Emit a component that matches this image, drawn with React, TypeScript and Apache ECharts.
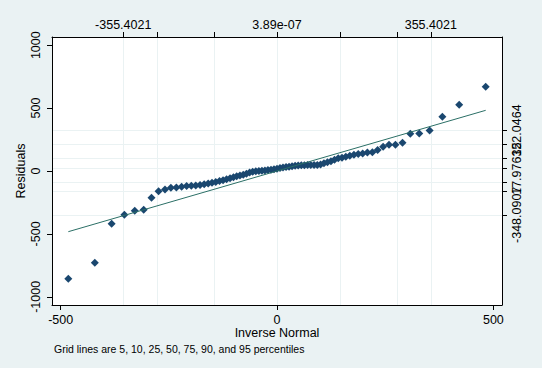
import React, { useEffect, useRef } from "react";
import * as echarts from "echarts";

// Theoretical normal quantiles (x) for the 77 sorted residuals
const normalQuantiles = [
  -482.3, -421.1, -382.2, -352.8, -328.8, -308.1, -290.0, -273.7, -258.8, -245.2,
  -232.5, -220.4, -208.9, -198.1, -187.8, -177.8, -168.3, -159.0, -150.2, -141.5,
  -132.9, -124.7, -116.5, -108.5, -100.7, -93.1, -85.6, -78.0, -70.7, -63.3,
  -56.2, -49.0, -41.9, -34.8, -27.9, -21.0, -13.8, -6.9, 0,
  6.9, 13.8, 21.0, 27.9, 34.8, 41.9, 49.0, 56.2, 63.3, 70.7,
  78.0, 85.6, 93.1, 100.7, 108.5, 116.5, 124.7, 132.9, 141.5, 150.2,
  159.0, 168.3, 177.8, 187.8, 198.1, 208.9, 220.4, 232.5, 245.2, 258.8,
  273.7, 290.0, 308.1, 328.8, 352.8, 382.2, 421.1, 482.3,
];

// Sorted residuals (y)
const residuals = [
  -856, -729, -419, -348, -315, -307, -212, -160, -147, -134,
  -132, -125, -119, -117, -115, -111, -106, -100, -94, -88,
  -80, -74, -66, -58, -50, -42, -36, -29, -22, -12,
  -6, -2, 0, 2, 4, 7, 10, 14, 18,
  24, 28, 32, 34, 37, 41, 44, 45, 46, 48,
  48, 48, 48, 52, 61, 69, 78, 90, 101, 106,
  114, 122, 129, 135, 139, 148, 150, 167, 192, 208,
  209, 225, 296, 298, 322, 432, 527, 670,
];

const bottomTicks = [-500, 0, 500];
const leftTicks = [-1000, -500, 0, 500, 1000];

// Percentile grid (5,10,25,50,75,90,95)
const topTickValues = [-355.4021, -276.89, -145.73, 3.89e-7, 145.73, 276.89, 355.4021];
const topLabelValues = [-355.4021, 3.89e-7, 355.4021];
const topLabelTexts = ["-355.4021", "3.89e-07", "355.4021"];

const rightTickValues = [-348.0907, -160, -88, 17.97615, 101, 209, 322.0464];
const rightOuterLabelValues = [-348.0907, 322.0464];
const rightMidLabelValues = [17.97615];
const rightLabelValues = [-348.0907, 17.97615, 322.0464];
const rightLabelTexts = ["-348.0907", "17.97615", "322.0464"];

const noteText = "Grid lines are 5, 10, 25, 50, 75, 90, and 95 percentiles";

const FONT = "'Liberation Sans', Arial, sans-serif";
const BG = "#eaf2f3";
const GRIDC = "#eaf2f3";
const MARKER = "#1a476f";
const LINEC = "#2b6f66";

function nearestLabel(v: number, vals: number[], texts: string[]) {
  let best = 0;
  let bd = Infinity;
  vals.forEach((x, i) => {
    const d = Math.abs(x - v);
    if (d < bd) {
      bd = d;
      best = i;
    }
  });
  return bd < 1 ? texts[best] : "";
}

export default function App() {
  const ref = useRef<HTMLDivElement>(null);
  useEffect(() => {
    document.body.style.margin = "0";
    if (!ref.current) return;
    const chart = echarts.init(ref.current, undefined, { renderer: "svg" });
    const xMin = Math.min(...normalQuantiles);
    const xMax = Math.max(...normalQuantiles);
    const axisLine = { show: true, onZero: false, lineStyle: { color: "#000", width: 1 } };
    const tickStyle = { color: "#000", width: 1 };
    const labelBase = {
      color: "#000",
      fontFamily: FONT,
      fontSize: 12.5,
      interval: 0,
      showMinLabel: true,
      showMaxLabel: true,
      hideOverlap: false,
    };
    const rightLabel = (vals: number[]) => ({
      ...labelBase,
      customValues: vals,
      rotate: 90,
      margin: 8,
      formatter: (v: number) => nearestLabel(v, rightLabelValues, rightLabelTexts),
    });
    chart.setOption({
      animation: false,
      backgroundColor: BG,
      grid: {
        left: 52,
        right: 40,
        top: 37,
        bottom: 63,
        show: true,
        backgroundColor: "#fff",
        borderWidth: 0,
        containLabel: false,
      },
      xAxis: [
        {
          type: "value",
          position: "bottom",
          min: -520,
          max: 520,
          axisLine,
          axisTick: { show: true, customValues: bottomTicks, length: 5, lineStyle: tickStyle },
          axisLabel: { ...labelBase, customValues: bottomTicks, margin: 8, formatter: (v: number) => String(v) },
          splitLine: { show: false },
          name: "Inverse Normal",
          nameLocation: "middle",
          nameGap: 21,
          nameMoveOverlap: false,
          nameTextStyle: { color: "#000", fontFamily: FONT, fontSize: 12.5 },
        },
        {
          type: "value",
          position: "top",
          min: -520,
          max: 520,
          axisLine,
          axisTick: { show: true, customValues: topTickValues, length: 5, lineStyle: tickStyle },
          axisLabel: {
            ...labelBase,
            customValues: topLabelValues,
            margin: 6,
            formatter: (v: number) => nearestLabel(v, topLabelValues, topLabelTexts),
          },
          splitLine: { show: true, lineStyle: { color: GRIDC, width: 1 } },
        },
      ],
      yAxis: [
        {
          type: "value",
          position: "left",
          min: -1065,
          max: 1065,
          axisLine,
          axisTick: { show: true, customValues: leftTicks, length: 5, lineStyle: tickStyle },
          axisLabel: { ...labelBase, customValues: leftTicks, rotate: 90, margin: 10, formatter: (v: number) => String(v) },
          splitLine: { show: false },
          name: "Residuals",
          nameLocation: "middle",
          nameRotate: 90,
          nameGap: 25,
          nameMoveOverlap: false,
          nameTextStyle: { color: "#000", fontFamily: FONT, fontSize: 12.5 },
        },
        {
          type: "value",
          position: "right",
          min: -1065,
          max: 1065,
          axisLine,
          axisTick: { show: true, customValues: rightTickValues, length: 5, lineStyle: tickStyle },
          axisLabel: rightLabel(rightOuterLabelValues),
          splitLine: { show: true, lineStyle: { color: GRIDC, width: 1 } },
        },
        {
          type: "value",
          position: "right",
          min: -1065,
          max: 1065,
          axisLine: { show: false },
          axisTick: { show: false },
          axisLabel: rightLabel(rightMidLabelValues),
          splitLine: { show: false },
        },
      ],
      series: [
        {
          type: "scatter",
          xAxisIndex: 0,
          yAxisIndex: 0,
          symbol: "diamond",
          symbolSize: [8, 8],
          itemStyle: { color: MARKER, opacity: 1 },
          data: normalQuantiles.map((x, i) => [x, residuals[i]]),
          z: 2,
        },
        {
          type: "line",
          xAxisIndex: 0,
          yAxisIndex: 0,
          showSymbol: false,
          symbol: "none",
          lineStyle: { color: LINEC, width: 1 },
          data: [
            [xMin, xMin],
            [xMax, xMax],
          ],
          z: 3,
        },
      ],
      graphic: [
        {
          type: "text",
          left: 54,
          top: 343,
          style: { text: noteText, fill: "#000", font: `10.5px ${FONT}` },
        },
      ],
    });
    return () => chart.dispose();
  }, []);
  return <div ref={ref} style={{ width: 542, height: 368 }} />;
}
